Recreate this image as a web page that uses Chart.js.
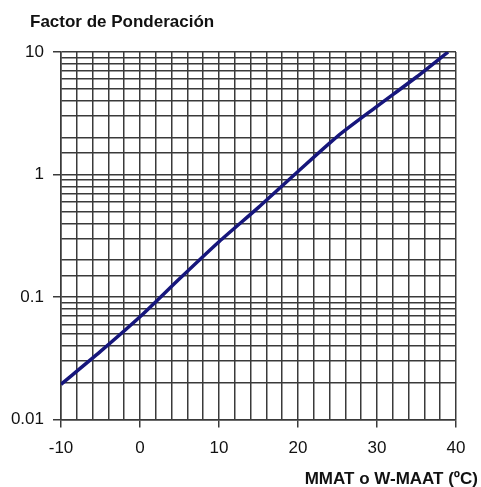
<!DOCTYPE html>
<html lang="es">
<head>
    <meta charset="UTF-8">
    <title>Factor de Ponderación</title>
    <script src="https://cdn.jsdelivr.net/npm/chart.js"></script>
    <style>
        html, body {
            margin: 0;
            padding: 0;
            background: #fff;
        }
        #wrap {
            width: 481px;
            height: 487px;
        }
    </style>
</head>
<body>
    <div id="wrap"><canvas id="factorChart"></canvas></div>

    <script>
        // values
        const temps = [-10, -5, 0, 5, 10, 15, 20, 25, 30, 35, 39];
        const factor = [0.0194, 0.036, 0.069, 0.141, 0.283, 0.54, 1.06, 2.05, 3.6, 6.25, 10];

        const yMajors = [0.01, 0.1, 1, 10];
        const xMajors = [-10, 0, 10, 20, 30, 40];

        const chartTitle = 'Factor de Ponderación';
        const xTitle = 'MMAT o W-MAAT (ºC)';

        const fontFamily = '"Liberation Sans", Arial, sans-serif';
        const gridColor = '#3a3a3a';

        function isMajorY(v) {
            return yMajors.some(m => Math.abs(v - m) / m < 1e-6);
        }

        function isMajorX(v) {
            return xMajors.includes(Math.round(v));
        }

        // draws the two bold captions (top-left and bottom-right)
        const captions = {
            id: 'captions',
            afterDraw(chart) {
                const ctx = chart.ctx;
                ctx.save();
                ctx.fillStyle = '#111';
                ctx.font = 'bold 17px ' + fontFamily;
                ctx.textBaseline = 'middle';
                ctx.textAlign = 'left';
                ctx.fillText(chartTitle, 30, 22);
                ctx.textAlign = 'right';
                ctx.fillText(xTitle, 478, 479);
                ctx.restore();
            }
        };

        new Chart(document.getElementById('factorChart'), {
            type: 'line',
            data: {
                labels: temps,
                datasets: [{
                    data: temps.map((t, i) => ({ x: t, y: factor[i] })),
                    borderColor: '#16167c',
                    borderWidth: 3.5,
                    pointRadius: 0,
                    tension: 0.25,
                    fill: false
                }]
            },
            options: {
                responsive: true,
                maintainAspectRatio: false,
                animation: false,
                layout: {
                    padding: { top: 52, right: 25, bottom: 17, left: 0 }
                },
                plugins: {
                    legend: { display: false },
                    tooltip: { enabled: false }
                },
                scales: {
                    x: {
                        type: 'linear',
                        min: -10,
                        max: 40,
                        border: { color: gridColor, width: 1.5 },
                        grid: {
                            color: gridColor,
                            lineWidth: 1.5,
                            tickLength: 8,
                            tickColor: c => isMajorX(c.tick.value) ? gridColor : 'rgba(0,0,0,0)'
                        },
                        ticks: {
                            stepSize: 2,
                            autoSkip: false,
                            maxRotation: 0,
                            padding: 11,
                            color: '#111',
                            font: { family: fontFamily, size: 17 },
                            callback: v => isMajorX(v) ? String(v) : ''
                        }
                    },
                    y: {
                        type: 'logarithmic',
                        min: 0.01,
                        max: 10,
                        afterFit: s => { s.width = 61; },
                        border: { color: gridColor, width: 1.5 },
                        grid: {
                            color: gridColor,
                            lineWidth: 1.5,
                            tickLength: 8,
                            tickColor: c => isMajorY(c.tick.value) ? gridColor : 'rgba(0,0,0,0)'
                        },
                        ticks: {
                            autoSkip: false,
                            padding: 9,
                            color: '#111',
                            font: { family: fontFamily, size: 17 },
                            callback: v => isMajorY(v) ? String(+v.toPrecision(3)) : ''
                        }
                    }
                }
            },
            plugins: [captions]
        });
    </script>
</body>
</html>
